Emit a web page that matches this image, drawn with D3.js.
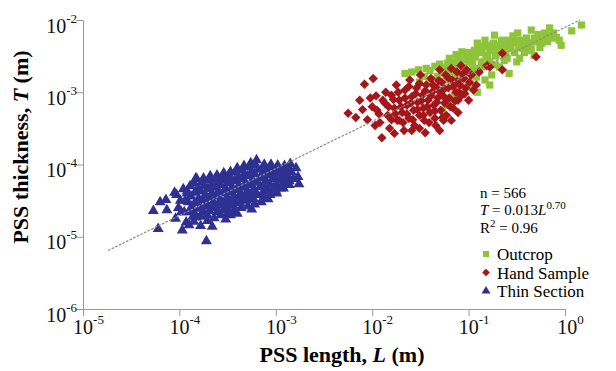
<!DOCTYPE html>
<html>
<head>
<meta charset="utf-8">
<script src="https://cdn.jsdelivr.net/npm/d3@7"></script>
<style>
  body { margin: 0; background: #fff; }
  svg text { font-family: "Liberation Serif", "Times New Roman", serif; }
</style>
</head>
<body>
<div id="chart"></div>
<script>
// points are [log10 L, log10 T]
const outcrop = [
  [-1.66,-2.74],[-1.59,-2.72],[-1.52,-2.69],[-1.44,-2.67],[-1.35,-2.64],[-1.30,-2.61],[-1.25,-2.69],
  [-1.20,-2.53],[-1.11,-2.56],[-1.15,-2.67],[-1.07,-2.44],[-1.02,-2.49],[-0.99,-2.58],[-0.94,-2.42],
  [-0.91,-2.32],[-0.87,-2.38],[-0.83,-2.28],[-0.80,-2.49],[-0.76,-2.38],[-0.71,-2.46],[-0.68,-2.35],
  [-0.65,-2.28],[-0.63,-2.38],[-0.60,-2.53],[-0.58,-2.28],[-0.54,-2.22],[-0.52,-2.31],[-0.50,-2.58],
  [-0.47,-2.28],[-0.44,-2.39],[-0.40,-2.25],[-0.39,-2.42],[-0.37,-2.33],[-0.35,-2.14],[-0.32,-2.25],
  [-0.26,-2.38],[-0.21,-2.18],[-0.19,-2.21],[-0.16,-2.11],[-0.13,-2.25],[-0.09,-2.24],[-0.04,-2.35],
  [0.07,-2.15],[0.17,-2.07],[-1.09,-2.81],[-1.01,-2.76],[-0.92,-2.79],[-0.83,-2.83],[-0.89,-2.67],
  [-0.96,-2.60],[-1.06,-2.65],[-1.12,-2.79],[-0.78,-2.58],[-0.68,-2.65],[-0.58,-2.74],[-0.76,-2.76],
  [-0.94,-2.51],[-0.99,-2.90],[-1.20,-3.18],[-1.27,-3.25],[-1.40,-2.83],[-1.46,-2.78],[-1.22,-2.83],
  [-1.15,-3.04],[-1.04,-2.97],[-0.91,-3.00],[-0.78,-2.90],[-0.47,-2.53],[-0.32,-2.49],[-0.73,-2.21],
  [-0.63,-2.56],[-0.87,-2.58],[-1.18,-2.72],[-1.32,-2.78],[-1.51,-2.86],[-0.80,-2.35],[-0.49,-2.18],
  [-0.26,-2.28],
  [-1.40,-2.70],[-1.28,-2.66],[-1.22,-2.60],[-1.16,-2.58],[-1.10,-2.50],[-1.05,-2.55],[-1.00,-2.45],
  [-0.97,-2.52],[-0.93,-2.48],[-0.90,-2.40],[-0.86,-2.45],[-0.84,-2.36],[-0.82,-2.52],[-0.78,-2.42],
  [-0.74,-2.32],[-0.72,-2.50],[-0.70,-2.40],[-0.66,-2.30],[-0.62,-2.44],[-0.60,-2.34],[-0.56,-2.40],
  [-0.55,-2.30],[-0.52,-2.45],[-0.48,-2.36],[-0.45,-2.30],[-0.42,-2.45],[-0.38,-2.32],[-0.35,-2.40],
  [-0.30,-2.30],[-0.28,-2.20],[-0.24,-2.32],[-0.22,-2.26],[-0.18,-2.30],[-0.12,-2.18],[-0.06,-2.28],
  [-1.05,-2.68],[-0.95,-2.70],[-0.85,-2.65],[-0.72,-2.62],[-1.13,-2.48]
];

const handSample = [
  [-2.25,-3.29],[-2.17,-3.35],[-2.10,-3.24],[-2.08,-2.89],[-1.99,-2.81],[-2.02,-3.08],[-2.05,-3.38],
  [-1.90,-3.63],[-1.95,-3.25],[-1.92,-3.42],[-1.87,-3.15],[-1.84,-3.32],[-1.82,-3.50],[-1.80,-3.04],
  [-1.77,-3.22],[-1.75,-2.90],[-1.74,-3.39],[-1.72,-3.11],[-1.69,-3.28],[-1.67,-3.53],[-1.66,-2.97],
  [-1.64,-3.18],[-1.62,-3.36],[-1.61,-2.83],[-1.59,-3.06],[-1.57,-3.25],[-1.56,-3.46],[-1.54,-2.94],
  [-1.53,-3.14],[-1.51,-3.32],[-1.50,-2.76],[-1.48,-3.04],[-1.47,-3.22],[-1.46,-3.39],[-1.44,-2.90],
  [-1.42,-3.11],[-1.40,-3.28],[-1.39,-2.81],[-1.38,-3.00],[-1.36,-3.18],[-1.35,-3.36],[-1.33,-2.94],
  [-1.32,-3.08],[-1.30,-2.69],[-1.29,-3.25],[-1.28,-2.86],[-1.27,-3.04],[-1.25,-3.15],[-1.24,-2.76],
  [-1.23,-3.32],[-1.21,-2.94],[-1.20,-3.08],[-1.18,-2.67],[-1.17,-2.83],[-1.16,-3.22],[-1.13,-3.00],
  [-1.12,-2.72],[-1.11,-3.11],[-1.09,-2.90],[-1.08,-2.63],[-1.07,-3.04],[-1.05,-2.81],[-1.03,-2.94],
  [-1.02,-2.69],[-1.00,-3.11],[-0.99,-2.86],[-0.97,-2.76],[-0.95,-2.97],[-0.92,-2.90],[-0.89,-2.72],
  [-0.81,-2.63],[-0.78,-2.65],[-0.65,-2.46],[-0.65,-2.69],[-0.30,-2.51],[-1.59,-3.53],[-1.51,-3.50],
  [-1.77,-3.57],[-1.72,-3.39],[-1.86,-3.00],[-1.45,-3.56],[-1.34,-3.46],[-1.26,-3.39],[-1.11,-3.28],
  [-1.89,-3.11],[-1.97,-3.46],[-2.13,-3.11],[-1.30,-3.53],[-1.18,-3.39],
  [-1.83,-3.20],[-1.80,-3.38],[-1.78,-3.10],[-1.76,-3.30],[-1.73,-3.00],[-1.70,-3.20],[-1.68,-3.42],
  [-1.66,-3.08],[-1.64,-3.30],[-1.62,-2.92],[-1.60,-3.15],[-1.58,-3.38],[-1.55,-3.02],[-1.53,-3.24],
  [-1.51,-2.88],[-1.49,-3.12],[-1.47,-3.32],[-1.45,-2.98],[-1.43,-3.20],[-1.41,-3.42],[-1.39,-3.05],
  [-1.37,-2.90],[-1.35,-3.26],[-1.33,-3.14],[-1.31,-2.84],[-1.29,-3.00],[-1.27,-3.35],[-1.25,-2.95],
  [-1.23,-3.10],[-1.21,-2.80],[-1.19,-3.20],[-1.16,-2.92],[-1.14,-3.12],[-1.12,-2.85],[-1.10,-3.00],
  [-1.06,-2.75],[-1.04,-3.02],[-1.93,-3.30],[-1.96,-3.05],[-2.00,-3.20]
];

const thinSection = [
  [-4.27,-4.64],[-4.22,-4.89],[-4.14,-4.49],[-4.13,-4.63],[-3.72,-5.06],[-3.97,-4.91],[-4.05,-4.39],
  [-3.92,-4.40],[-3.83,-4.19],[-4.20,-4.52],
  [-4.03,-4.42],[-4.01,-4.60],[-4.04,-4.75],
  [-3.96,-4.34],[-3.94,-4.50],[-3.95,-4.66],[-3.93,-4.80],
  [-3.89,-4.30],[-3.88,-4.44],[-3.87,-4.58],[-3.86,-4.72],[-3.90,-4.84],
  [-3.82,-4.20],[-3.81,-4.33],[-3.80,-4.47],[-3.79,-4.60],[-3.83,-4.73],[-3.78,-4.85],
  [-3.75,-4.19],[-3.74,-4.30],[-3.73,-4.42],[-3.72,-4.55],[-3.76,-4.66],[-3.71,-4.78],
  [-3.68,-4.16],[-3.67,-4.28],[-3.66,-4.40],[-3.65,-4.52],[-3.69,-4.64],[-3.64,-4.74],[-3.66,-4.86],
  [-3.61,-4.15],[-3.60,-4.25],[-3.59,-4.37],[-3.58,-4.50],[-3.62,-4.60],[-3.57,-4.70],
  [-3.54,-4.12],[-3.53,-4.22],[-3.52,-4.34],[-3.51,-4.46],[-3.55,-4.57],[-3.50,-4.68],[-3.52,-4.76],
  [-3.47,-4.10],[-3.46,-4.20],[-3.45,-4.32],[-3.44,-4.44],[-3.48,-4.54],[-3.43,-4.64],
  [-3.40,-4.05],[-3.39,-4.17],[-3.38,-4.29],[-3.37,-4.41],[-3.41,-4.51],[-3.36,-4.60],[-3.40,-4.68],
  [-3.33,-4.02],[-3.32,-4.14],[-3.31,-4.26],[-3.30,-4.38],[-3.34,-4.48],[-3.29,-4.58],
  [-3.26,-3.98],[-3.25,-4.10],[-3.24,-4.22],[-3.23,-4.34],[-3.27,-4.45],[-3.22,-4.55],[-3.25,-4.62],
  [-3.20,-3.94],[-3.18,-4.07],[-3.17,-4.19],[-3.16,-4.31],[-3.20,-4.42],[-3.15,-4.52],
  [-3.12,-4.00],[-3.11,-4.11],[-3.10,-4.23],[-3.09,-4.35],[-3.13,-4.46],[-3.08,-4.48],
  [-3.05,-4.00],[-3.04,-4.10],[-3.03,-4.20],[-3.02,-4.32],[-3.06,-4.42],
  [-2.98,-4.01],[-2.97,-4.12],[-2.96,-4.22],[-2.95,-4.33],[-2.99,-4.40],
  [-2.91,-4.02],[-2.90,-4.13],[-2.89,-4.24],[-2.92,-4.33],
  [-2.85,-3.99],[-2.84,-4.10],[-2.82,-4.20],[-2.86,-4.28],
  [-2.79,-4.05],[-2.77,-4.17],[-2.76,-4.27],
  [-3.99,-4.50],[-3.98,-4.66],[-3.92,-4.37],[-3.91,-4.52],[-3.90,-4.65],
  [-3.85,-4.26],[-3.84,-4.39],[-3.84,-4.53],[-3.85,-4.66],[-3.85,-4.79],
  [-3.77,-4.25],[-3.78,-4.37],[-3.76,-4.49],[-3.77,-4.61],[-3.78,-4.72],
  [-3.70,-4.22],[-3.71,-4.34],[-3.69,-4.46],[-3.70,-4.58],[-3.71,-4.70],
  [-3.63,-4.20],[-3.64,-4.32],[-3.62,-4.44],[-3.63,-4.56],[-3.61,-4.66],
  [-3.56,-4.17],[-3.57,-4.28],[-3.55,-4.40],[-3.56,-4.52],[-3.54,-4.63],
  [-3.49,-4.15],[-3.50,-4.26],[-3.48,-4.38],[-3.49,-4.49],[-3.50,-4.60],[-3.47,-4.70],
  [-3.42,-4.11],[-3.43,-4.23],[-3.41,-4.35],[-3.42,-4.46],[-3.44,-4.57],
  [-3.35,-4.08],[-3.36,-4.20],[-3.34,-4.32],[-3.35,-4.43],[-3.37,-4.53],
  [-3.28,-4.04],[-3.29,-4.16],[-3.27,-4.28],[-3.28,-4.40],[-3.30,-4.50],
  [-3.21,-4.01],[-3.22,-4.13],[-3.20,-4.25],[-3.21,-4.37],[-3.23,-4.48],
  [-3.14,-4.05],[-3.15,-4.17],[-3.13,-4.29],[-3.14,-4.40],
  [-3.07,-4.05],[-3.08,-4.15],[-3.06,-4.27],[-3.07,-4.37],
  [-3.00,-4.06],[-3.01,-4.17],[-2.99,-4.28],[-3.00,-4.36],
  [-2.93,-4.08],[-2.94,-4.19],[-2.92,-4.28],
  [-2.87,-4.05],[-2.88,-4.15],[-2.86,-4.23]
];

// dotted fit line as drawn: [log10 L, log10 T] at both ends
const fitLine = [[-4.74, -5.19], [0.155, -2.0]];

const xExps = [-5, -4, -3, -2, -1, 0];
const yExps = [-6, -5, -4, -3, -2];
const series = [
  { name: "Outcrop", data: outcrop, color: "#8dc43a", shape: "square" },
  { name: "Hand Sample", data: handSample, color: "#a5161b", shape: "diamond" },
  { name: "Thin Section", data: thinSection, color: "#2e3192", shape: "triangle" }
];

const FONT = "'Liberation Serif', 'Times New Roman', serif";

const margin = { top: 20, right: 51, bottom: 62, left: 83 },
  width = 616 - margin.left - margin.right,
  height = 371 - margin.top - margin.bottom;

const svg = d3.select("#chart").append("svg")
  .attr("width", 616).attr("height", 371)
  .attr("font-family", FONT)
  .style("background", "#fff");
const g = svg.append("g")
  .attr("transform", "translate(" + margin.left + "," + margin.top + ")");

const x = d3.scaleLog().domain([1e-5, 1]).range([0, width]);
const y = d3.scaleLog().domain([1e-6, 1e-2]).range([height, 0]);

// axes
const xAxis = g.append("g")
  .attr("transform", "translate(0," + height + ")")
  .call(d3.axisBottom(x).tickValues(xExps.map(e => Math.pow(10, e))).tickSize(7).tickSizeOuter(0));
const yAxis = g.append("g")
  .call(d3.axisLeft(y).tickValues(yExps.map(e => Math.pow(10, e))).tickSize(7).tickSizeOuter(0));

[xAxis, yAxis].forEach(a => {
  a.attr("font-family", FONT);
  a.selectAll("path, line").attr("stroke", "#9a9a9a").attr("stroke-width", 1);
  a.selectAll(".tick text").remove();
});

function powLabel(t, e) {
  t.append("tspan").text("10");
  t.append("tspan").attr("dy", -10).attr("font-size", 13).text(e);
}

xAxis.selectAll(".tick").each(function (d) {
  const t = d3.select(this).append("text")
    .attr("x", 5).attr("y", 25)
    .attr("text-anchor", "middle")
    .attr("font-family", FONT)
    .attr("font-size", 20).attr("fill", "#111");
  powLabel(t, Math.round(Math.log10(d)));
});
yAxis.selectAll(".tick").each(function (d) {
  const t = d3.select(this).append("text")
    .attr("x", -6).attr("y", 12)
    .attr("text-anchor", "end")
    .attr("font-family", FONT)
    .attr("font-size", 20).attr("fill", "#111");
  powLabel(t, Math.round(Math.log10(d)));
});

// axis titles
const xt = svg.append("text")
  .attr("x", 342).attr("y", 362)
  .attr("text-anchor", "middle")
  .attr("font-size", 22).attr("font-weight", "bold");
xt.append("tspan").text("PSS length, ");
xt.append("tspan").attr("font-style", "italic").text("L");
xt.append("tspan").text(" (m)");

const yt = svg.append("text")
  .attr("transform", "translate(28,147) rotate(-90)")
  .attr("text-anchor", "middle")
  .attr("font-size", 22).attr("font-weight", "bold");
yt.append("tspan").text("PSS thickness, ");
yt.append("tspan").attr("font-style", "italic").text("T");
yt.append("tspan").text(" (m)");

// markers
const shapes = {
  square: d3.symbol().type(d3.symbolSquare).size(52)(),
  diamond: d3.symbol().type(d3.symbolSquare).size(44)(),
  triangle: d3.symbol().type(d3.symbolTriangle).size(52)()
};
const rot = { square: 0, diamond: 45, triangle: 0 };

series.forEach(s => {
  g.append("g").selectAll("path")
    .data(s.data)
    .enter()
    .append("path")
    .attr("d", shapes[s.shape])
    .attr("transform", d => "translate(" + x(Math.pow(10, d[0])) + "," + y(Math.pow(10, d[1])) + ") rotate(" + rot[s.shape] + ")")
    .attr("fill", s.color);
});

// fit line
g.append("line")
  .attr("x1", x(Math.pow(10, fitLine[0][0]))).attr("y1", y(Math.pow(10, fitLine[0][1])))
  .attr("x2", x(Math.pow(10, fitLine[1][0]))).attr("y2", y(Math.pow(10, fitLine[1][1])))
  .attr("stroke", "#8a8a8a").attr("stroke-width", 1.2)
  .attr("stroke-dasharray", "2.5,1.5");

// stats block
const stats = svg.append("g").attr("transform", "translate(480,0)");
stats.append("text").attr("y", 198).attr("font-size", 15).text("n = 566");
const s1 = stats.append("text").attr("y", 215).attr("font-size", 15);
s1.append("tspan").attr("font-style", "italic").text("T");
s1.append("tspan").text(" = 0.013");
s1.append("tspan").attr("font-style", "italic").text("L");
s1.append("tspan").attr("dy", -6).attr("font-size", 11).text("0.70");
const s2 = stats.append("text").attr("y", 233).attr("font-size", 15);
s2.append("tspan").text("R");
s2.append("tspan").attr("dy", -6).attr("font-size", 11).text("2");
s2.append("tspan").attr("dy", 6).text(" = 0.96");

// legend
const legShapes = {
  square: d3.symbol().type(d3.symbolSquare).size(36)(),
  diamond: d3.symbol().type(d3.symbolSquare).size(30)(),
  triangle: d3.symbol().type(d3.symbolTriangle).size(34)()
};
const leg = svg.append("g").attr("transform", "translate(486,0)");
series.forEach((s, i) => {
  const by = 260 + i * 18.5;
  leg.append("path")
    .attr("d", legShapes[s.shape])
    .attr("transform", "translate(0," + (by - 6) + ") rotate(" + rot[s.shape] + ")")
    .attr("fill", s.color);
  leg.append("text")
    .attr("x", 11).attr("y", by)
    .attr("font-size", 17)
    .text(s.name);
});
</script>
</body>
</html>
